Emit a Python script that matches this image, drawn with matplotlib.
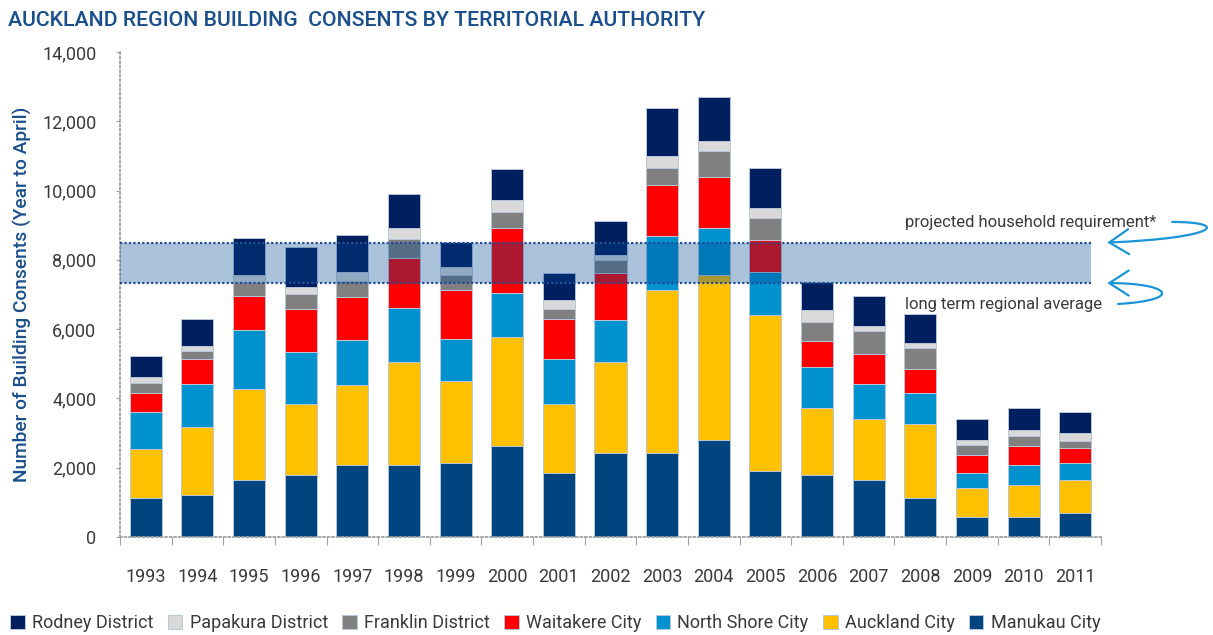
import matplotlib
matplotlib.use("Agg")
import matplotlib.pyplot as plt
from matplotlib.patches import FancyArrowPatch
from matplotlib.path import Path
import numpy as np

years = ["1993", "1994", "1995", "1996", "1997", "1998", "1999", "2000", "2001", "2002",
         "2003", "2004", "2005", "2006", "2007", "2008", "2009", "2010", "2011"]

# stacked bottom -> top
manukau = [1126, 1222, 1655, 1799, 2088, 2088, 2136, 2627, 1857, 2434,
           2434, 2810, 1896, 1790, 1645, 1117, 587, 587, 684]
auckland = [1414, 1944, 2617, 2041, 2291, 2955, 2377, 3147, 1983, 2609,
            4697, 4753, 4504, 1943, 1752, 2135, 828, 924, 971]
north_shore = [1059, 1251, 1695, 1491, 1299, 1559, 1213, 1261, 1298, 1221,
               1549, 1348, 1250, 1165, 1011, 914, 433, 577, 481]
waitakere = [567, 712, 1001, 1261, 1261, 1444, 1396, 1876, 1165, 1349,
             1491, 1491, 924, 770, 875, 675, 528, 530, 433]
franklin = [289, 241, 404, 433, 451, 566, 432, 481, 289, 385,
            481, 732, 635, 530, 664, 624, 289, 288, 202]
papakura = [164, 153, 191, 202, 269, 299, 240, 346, 250, 154,
            337, 298, 288, 346, 144, 144, 145, 192, 240]
rodney = [615, 779, 1059, 1155, 1059, 982, 732, 877, 770, 962,
          1405, 1261, 1155, 808, 877, 829, 587, 635, 588]

band_low, band_high = 7330, 8500

series = [
    ("Manukau City", manukau, "#00457f"),
    ("Auckland City", auckland, "#ffc000"),
    ("North Shore City", north_shore, "#0092cf"),
    ("Waitakere City", waitakere, "#ff0000"),
    ("Franklin District", franklin, "#808080"),
    ("Papakura District", papakura, "#d9d9d9"),
    ("Rodney District", rodney, "#001f5f"),
]

plt.rcParams["font.family"] = ["Roboto", "DejaVu Sans"]
navy = "#1a4f8b"
grey_txt = "#3a3a3a"

fig = plt.figure(figsize=(12.13, 6.35), dpi=100)
ax = fig.add_axes([120 / 1213, 1 - 537 / 635, 981 / 1213, 485 / 635])

x = np.arange(len(years))
bottom = np.zeros(len(years))
handles = {}
for name, vals, col in series:
    b = ax.bar(x, vals, 0.62, bottom=bottom, color=col, edgecolor="#b9c6d8",
               linewidth=0.7, label=name, zorder=2)
    handles[name] = b
    bottom += np.array(vals)

# shaded band between long term average and projected requirement
ax.fill_between([-0.5, 18.3], band_low, band_high, color="#004991", alpha=0.33,
                linewidth=0, zorder=3)
for yv in (band_low, band_high):
    ax.plot([-0.5, 18.3], [yv, yv], color="#1f4e99", lw=1.6, ls=(0, (1, 1)), zorder=4)

ax.set_xlim(-0.5, 18.5)
ax.set_ylim(0, 14000)
ax.set_yticks(range(0, 14001, 2000))
ax.set_yticklabels([f"{v:,}" for v in range(0, 14001, 2000)], fontsize=13,
                   color=grey_txt)
ax.tick_params(axis="y", length=3, color="#a0a0a0", pad=14)

ax.set_xticks(np.arange(-0.5, 19, 1))
ax.set_xticklabels([])
ax.tick_params(axis="x", which="major", length=6, color="#a0a0a0", width=0.8)
ax.set_xticks(x, minor=True)
ax.set_xticklabels(years, minor=True, fontsize=13, color=grey_txt)
ax.tick_params(axis="x", which="minor", length=0, pad=22)

for s in ("top", "right"):
    ax.spines[s].set_visible(False)
for s in ("left", "bottom"):
    ax.spines[s].set_color("#a0a0a0")
    ax.spines[s].set_linestyle((0, (1, 1.5)))
    ax.spines[s].set_linewidth(1.3)

ax.set_ylabel("Number of Building Consents (Year to April)", fontsize=13.8,
              color=navy, labelpad=7, fontweight="medium")

fig.text(8 / 1213, 1 - 20 / 635, "AUCKLAND REGION BUILDING  CONSENTS BY TERRITORIAL AUTHORITY",
         fontsize=15.3, color=navy, va="center", ha="left", fontweight="medium")

# annotations with curved arrows
ax.text(14.7, 9080, "projected household requirement*", fontsize=12, color=grey_txt,
        va="center", ha="left")
ax.text(14.7, 6720, "long term regional average", fontsize=12, color=grey_txt,
        va="center", ha="left")

arrow_col = "#1a96d6"
curves = [
    [(19.88, 9094), (21.0, 9094), (20.8, 8632), (18.62, band_high)],
    [(18.83, 6726), (20.13, 6842), (19.84, band_low), (18.62, band_low)],
]
for pts in curves:
    path = Path(pts, [Path.MOVETO, Path.CURVE4, Path.CURVE4, Path.CURVE4])
    arr = FancyArrowPatch(path=path, arrowstyle="->,head_length=0.7,head_width=0.45",
                          mutation_scale=20, color=arrow_col, lw=1.6,
                          transform=ax.transData, clip_on=False, zorder=5)
    ax.add_patch(arr)

order = ["Rodney District", "Papakura District", "Franklin District", "Waitakere City",
         "North Shore City", "Auckland City", "Manukau City"]
fig.legend([handles[n] for n in order], order, loc="center left",
           bbox_to_anchor=(-6 / 1213, 1 - 623 / 635), ncol=7, frameon=False,
           fontsize=13, handlelength=0.8, handleheight=0.8, handletextpad=0.4,
           columnspacing=0.8, labelcolor=grey_txt)

fig.savefig("out.png", dpi=100)
